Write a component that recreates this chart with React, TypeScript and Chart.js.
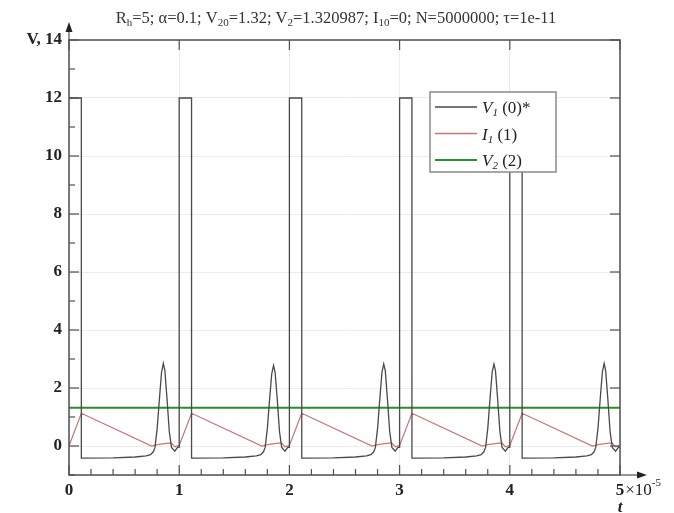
import React, { useEffect, useRef } from "react";
import { Chart, registerables } from "chart.js";
Chart.register(...registerables);

// ---- data ----
const tV1 = [
  0, 0.112, 0.112, 0.4, 0.6, 0.7, 0.74, 0.765, 0.78, 0.8, 0.82, 0.84, 0.856, 0.87, 0.89, 0.91, 0.93, 0.96, 0.985, 1.0,
  1.0, 1.112, 1.112, 1.4, 1.6, 1.7, 1.74, 1.765, 1.78, 1.8, 1.82, 1.84, 1.856, 1.87, 1.89, 1.91, 1.93, 1.96, 1.985, 2.0,
  2.0, 2.112, 2.112, 2.4, 2.6, 2.7, 2.74, 2.765, 2.78, 2.8, 2.82, 2.84, 2.856, 2.87, 2.89, 2.91, 2.93, 2.96, 2.985, 3.0,
  3.0, 3.112, 3.112, 3.4, 3.6, 3.7, 3.74, 3.765, 3.78, 3.8, 3.82, 3.84, 3.856, 3.87, 3.89, 3.91, 3.93, 3.96, 3.985, 4.0,
  4.0, 4.112, 4.112, 4.4, 4.6, 4.7, 4.74, 4.765, 4.78, 4.8, 4.82, 4.84, 4.856, 4.87, 4.89, 4.91, 4.93, 4.96, 4.985, 5.0,
];
const V1 = [
  12, 12, -0.42, -0.41, -0.38, -0.34, -0.3, -0.2, -0.05, 0.6, 1.6, 2.55, 2.85, 2.6, 1.6, 0.5, -0.05, -0.18, -0.05, -0.05,
  12, 12, -0.42, -0.41, -0.38, -0.34, -0.3, -0.2, -0.05, 0.6, 1.6, 2.5, 2.78, 2.55, 1.6, 0.5, -0.05, -0.18, -0.05, -0.05,
  12, 12, -0.42, -0.41, -0.38, -0.34, -0.3, -0.2, -0.05, 0.6, 1.6, 2.55, 2.83, 2.6, 1.6, 0.5, -0.05, -0.18, -0.05, -0.05,
  12, 12, -0.42, -0.41, -0.38, -0.34, -0.3, -0.2, -0.05, 0.6, 1.6, 2.55, 2.83, 2.6, 1.6, 0.5, -0.05, -0.18, -0.05, -0.05,
  12, 12, -0.42, -0.41, -0.38, -0.34, -0.3, -0.2, -0.05, 0.6, 1.6, 2.55, 2.85, 2.6, 1.6, 0.5, -0.05, -0.18, -0.05, -0.05,
];
const tI1 = [
  0, 0.112, 0.75, 0.8, 0.9, 0.93, 0.96,
  1.0, 1.112, 1.75, 1.8, 1.9, 1.93, 1.96,
  2.0, 2.112, 2.75, 2.8, 2.9, 2.93, 2.96,
  3.0, 3.112, 3.75, 3.8, 3.9, 3.93, 3.96,
  4.0, 4.112, 4.75, 4.8, 4.9, 4.93, 4.96, 5.0,
];
const I1 = [
  0, 1.13, 0, 0.05, 0.1, 0.1, -0.03,
  0.02, 1.13, 0, 0.05, 0.1, 0.1, -0.03,
  0.02, 1.13, 0, 0.05, 0.1, 0.1, -0.03,
  0.02, 1.13, 0, 0.05, 0.1, 0.1, -0.03,
  0.02, 1.13, 0, 0.05, 0.1, 0.1, -0.03, 0.02,
];
const tV2 = [0, 5];
const V2 = [1.32, 1.32];

const xMajor = [0, 1, 2, 3, 4, 5];
const xMajorLabels = ["0", "1", "2", "3", "4", "5"];
const xMinor = [0.2, 0.4, 0.6, 0.8, 1.2, 1.4, 1.6, 1.8, 2.2, 2.4, 2.6, 2.8, 3.2, 3.4, 3.6, 3.8, 4.2, 4.4, 4.6, 4.8];
const yMajor = [0, 2, 4, 6, 8, 10, 12, 14];
const yMajorLabels = ["0", "2", "4", "6", "8", "10", "12", "V, 14"];
const yMinor = [-1, 1, 3, 5, 7, 9, 11, 13];

const titleParts: [string, boolean][] = [
  ["R", false], ["h", true], ["=5; \u03b1=0.1; V", false], ["20", true], ["=1.32; V", false], ["2", true],
  ["=1.320987; I", false], ["10", true], ["=0; N=5000000; \u03c4=1e-11", false],
];

const legendItems = [
  { sym: "V", sub: "1", rest: " (0)*", color: "#4a4a4a" },
  { sym: "I", sub: "1", rest: " (1)", color: "#c07878" },
  { sym: "V", sub: "2", rest: " (2)", color: "#2e8b2e" },
];

const SERIF = "'Liberation Serif', 'Times New Roman', serif";

const decor = {
  id: "decor",
  afterDraw(chart: any) {
    const ctx: CanvasRenderingContext2D = chart.ctx;
    const { left, right, top, bottom } = chart.chartArea;
    const xs = chart.scales.x;
    const ys = chart.scales.y;
    ctx.save();
    const line = (x1: number, y1: number, x2: number, y2: number) => {
      ctx.beginPath();
      ctx.moveTo(x1, y1);
      ctx.lineTo(x2, y2);
      ctx.stroke();
    };
    // frame
    ctx.strokeStyle = "#505050";
    ctx.lineWidth = 1.5;
    ctx.strokeRect(left, top, right - left, bottom - top);
    // ticks
    ctx.lineWidth = 1.2;
    for (const v of xMajor) {
      const p = xs.getPixelForValue(v);
      line(p, bottom, p, bottom - 10);
      line(p, top, p, top + 10);
    }
    for (const v of xMinor) {
      const p = xs.getPixelForValue(v);
      line(p, bottom, p, bottom - 6);
    }
    for (const v of yMajor) {
      const p = ys.getPixelForValue(v);
      line(left, p, left + 10, p);
      line(right, p, right - 10, p);
    }
    for (const v of yMinor) {
      const p = ys.getPixelForValue(v);
      line(left, p, left + 6, p);
    }
    // arrows
    ctx.fillStyle = "#222";
    line(left, top, left, top - 12);
    ctx.beginPath();
    ctx.moveTo(left, top - 18);
    ctx.lineTo(left - 3.5, top - 8);
    ctx.lineTo(left + 3.5, top - 8);
    ctx.closePath();
    ctx.fill();
    line(right, bottom, right + 20, bottom);
    ctx.beginPath();
    ctx.moveTo(right + 27, bottom);
    ctx.lineTo(right + 17, bottom - 3.5);
    ctx.lineTo(right + 17, bottom + 3.5);
    ctx.closePath();
    ctx.fill();

    // tick labels
    ctx.fillStyle = "#222";
    ctx.font = `bold 17px ${SERIF}`;
    ctx.textAlign = "right";
    ctx.textBaseline = "middle";
    yMajor.forEach((v, i) => {
      ctx.fillText(yMajorLabels[i], left - 7, ys.getPixelForValue(v));
    });
    ctx.textAlign = "center";
    ctx.textBaseline = "top";
    xMajor.forEach((v, i) => {
      const p = xs.getPixelForValue(v);
      ctx.fillText(xMajorLabels[i], p, bottom + 7);
      if (i === xMajor.length - 1) {
        const w = ctx.measureText(xMajorLabels[i]).width;
        ctx.textAlign = "left";
        ctx.font = `17px ${SERIF}`;
        ctx.fillText("\u00d710", p + w / 2 + 1, bottom + 7);
        const w2 = ctx.measureText("\u00d710").width;
        ctx.font = `11px ${SERIF}`;
        ctx.fillText("-5", p + w / 2 + 1 + w2, bottom + 3);
        ctx.textAlign = "center";
        ctx.font = `bold 17px ${SERIF}`;
      }
    });
    ctx.font = `italic bold 17px ${SERIF}`;
    ctx.fillText("t", xs.getPixelForValue(5), bottom + 24);

    // title
    const big = `16.5px ${SERIF}`;
    const small = `11px ${SERIF}`;
    let total = 0;
    for (const [s, sub] of titleParts) {
      ctx.font = sub ? small : big;
      total += ctx.measureText(s).width;
    }
    let tx = 336 - total / 2;
    ctx.textAlign = "left";
    ctx.textBaseline = "alphabetic";
    ctx.fillStyle = "#333";
    for (const [s, sub] of titleParts) {
      ctx.font = sub ? small : big;
      ctx.fillText(s, tx, sub ? 26 : 23);
      tx += ctx.measureText(s).width;
    }

    // legend
    const lx = 430, ly = 92, lw = 126, lh = 80;
    ctx.fillStyle = "#ffffff";
    ctx.fillRect(lx, ly, lw, lh);
    ctx.strokeStyle = "#8a8a8a";
    ctx.lineWidth = 1.5;
    ctx.strokeRect(lx, ly, lw, lh);
    legendItems.forEach((it, i) => {
      const y = ly + 15 + i * 26.5;
      ctx.strokeStyle = it.color;
      ctx.lineWidth = i === 2 ? 2 : 1.3;
      line(lx + 5, y, lx + 47, y);
      ctx.fillStyle = "#222";
      let x = lx + 52;
      ctx.font = `italic 17px ${SERIF}`;
      ctx.fillText(it.sym, x, y + 6);
      x += ctx.measureText(it.sym).width;
      ctx.font = `italic 11px ${SERIF}`;
      ctx.fillText(it.sub, x, y + 9);
      x += ctx.measureText(it.sub).width;
      ctx.font = `17px ${SERIF}`;
      ctx.fillText(it.rest, x, y + 6);
    });
    ctx.restore();
  },
};

export default function App() {
  const ref = useRef<HTMLCanvasElement>(null);
  useEffect(() => {
    document.body.style.margin = "0";
    const toPts = (xs: number[], ys: number[]) => xs.map((x, i) => ({ x, y: ys[i] }));
    const chart = new Chart(ref.current as HTMLCanvasElement, {
      type: "line",
      data: {
        datasets: [
          { label: "V1 (0)*", data: toPts(tV1, V1), borderColor: "#4a4a4a", borderWidth: 1.3, pointRadius: 0, tension: 0, fill: false },
          { label: "I1 (1)", data: toPts(tI1, I1), borderColor: "#c07878", borderWidth: 1.2, pointRadius: 0, tension: 0, fill: false },
          { label: "V2 (2)", data: toPts(tV2, V2), borderColor: "#2e8b2e", borderWidth: 2, pointRadius: 0, tension: 0, fill: false },
        ],
      },
      options: {
        animation: false,
        responsive: false,
        devicePixelRatio: 1,
        parsing: false as any,
        layout: { padding: { left: 69, right: 54, top: 40, bottom: 38 } },
        plugins: { legend: { display: false }, tooltip: { enabled: false }, title: { display: false } },
        scales: {
          x: {
            type: "linear",
            min: 0,
            max: 5,
            ticks: { display: false, stepSize: 1 },
            grid: { color: "#ececec", drawTicks: false, lineWidth: 1 },
            border: { display: false },
            afterFit: (s: any) => { s.height = 0; },
          },
          y: {
            type: "linear",
            min: -1,
            max: 14,
            ticks: { display: false, stepSize: 2 },
            grid: { color: "#ececec", drawTicks: false, lineWidth: 1 },
            border: { display: false },
            afterFit: (s: any) => { s.width = 0; },
          },
        },
      },
      plugins: [decor],
    });
    return () => chart.destroy();
  }, []);
  return (
    <div style={{ position: "absolute", left: 0, top: 0, width: 674, height: 513, background: "#fff" }}>
      <canvas ref={ref} width={674} height={513} style={{ width: 674, height: 513, display: "block" }} />
    </div>
  );
}
